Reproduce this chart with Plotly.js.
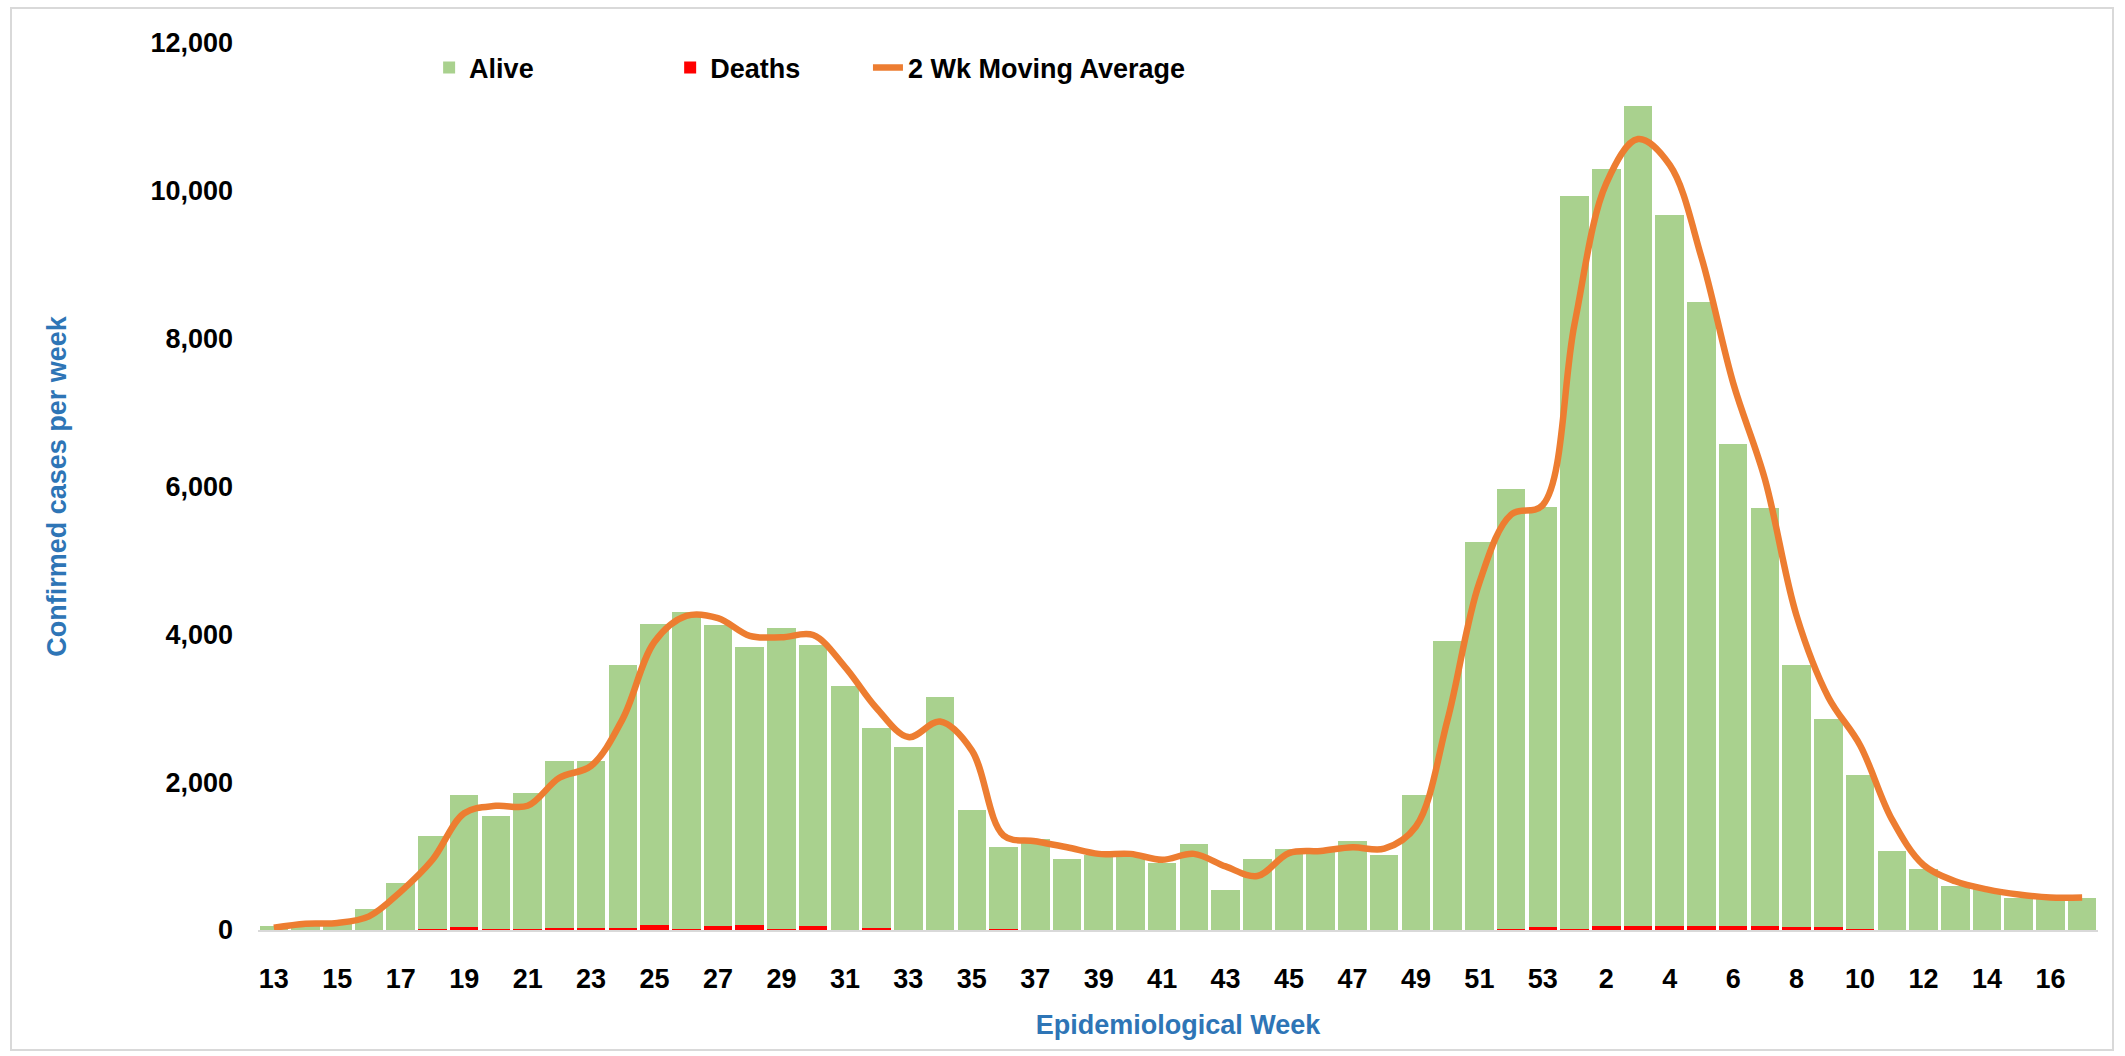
<!DOCTYPE html>
<html>
<head>
<meta charset="utf-8">
<script src="https://cdn.plot.ly/plotly-3.0.1.min.js"></script>
<style>
  html, body { margin: 0; padding: 0; background: #fff; }
  #frame { position: absolute; left: 10px; top: 7px; width: 2100px; height: 1040px; border: 2px solid #D9D9D9; pointer-events: none; z-index: 5; }
  #chart { position: absolute; left: 0; top: 0; width: 2125px; height: 1056px; }
</style>
</head>
<body>
<div id="chart"></div>
<div id="frame"></div>
<script>
// Epidemiological week labels (2020 weeks 13-53, then 2021 weeks 1-17)
const weekLabels = [
  "13","14","15","16","17","18","19","20","21","22","23","24","25","26","27","28","29","30",
  "31","32","33","34","35","36","37","38","39","40","41","42","43","44","45","46","47","48",
  "49","50","51","52","53",
  "1","2","3","4","5","6","7","8","9","10","11","12","13","14","15","16","17"
];

// Confirmed cases per week, alive
const alive = [
  60, 80, 100, 290, 630, 1250, 1785, 1520, 1830, 2260, 2260, 3560, 4070, 4280, 4065, 3765, 4075, 3795,
  3295, 2700, 2465, 3145, 1615, 1105, 1225, 955, 1005, 1025, 905, 1155, 535, 955, 1095, 1065, 1205, 1005,
  1815, 3905, 5245, 5945, 5685,
  9915, 10235, 11095, 9615, 8445, 6525, 5655, 3545, 2825, 2085, 1065, 825, 585, 555, 425, 435, 425
];

// Deaths per week
const deaths = [
  0, 0, 0, 0, 0, 20, 35, 20, 20, 30, 30, 30, 70, 20, 55, 65, 15, 55,
  5, 30, 5, 5, 5, 15, 5, 5, 5, 5, 5, 5, 5, 5, 5, 5, 5, 5,
  5, 5, 5, 15, 35,
  15, 55, 55, 55, 55, 55, 55, 35, 35, 15, 5, 5, 5, 5, 5, 5, 5
];

// 2 week moving average
const movingAvg = [
  30, 85, 95, 185, 520, 950, 1580, 1680, 1680, 2060, 2220, 2860, 3900, 4250, 4220, 3980, 3960, 3990,
  3560, 3000, 2610, 2820, 2430, 1280, 1200, 1120, 1030, 1030, 950, 1030, 860, 730, 1040, 1070, 1120, 1100,
  1400, 2850, 4700, 5620, 5750,
  8200, 10100, 10700, 10350, 9100, 7400, 6100, 4250, 3150, 2500, 1500, 880, 660, 550, 480, 440, 440
];

const idx = weekLabels.map((_, i) => i);
const tickIdx = idx.filter(i => i % 2 === 0);
const tickText = tickIdx.map(i => weekLabels[i]);

const FONT = "Liberation Sans, Arial, sans-serif";
const BLUE = "#2E75B6";

const traces = [
  {
    type: "bar", name: "Deaths", x: idx, y: deaths,
    marker: { color: "#FF0000", line: { width: 0 } },
    legend: "legend2", legendrank: 2,
    customdata: weekLabels, hovertemplate: "Week %{customdata}: %{y}<extra>Deaths</extra>"
  },
  {
    type: "bar", name: "Alive", x: idx, y: alive,
    marker: { color: "#A9D18E", line: { width: 0 } },
    legend: "legend", legendrank: 1,
    customdata: weekLabels, hovertemplate: "Week %{customdata}: %{y}<extra>Alive</extra>"
  },
  {
    type: "scatter", mode: "lines", name: "2 Wk Moving Average", x: idx, y: movingAvg,
    line: { color: "#ED7D31", width: 6.5, shape: "spline", smoothing: 1 },
    legend: "legend3", legendrank: 3,
    customdata: weekLabels, hovertemplate: "Week %{customdata}: %{y}<extra>2 Wk MA</extra>"
  }
];

const legendBase = {
  orientation: "h", yanchor: "middle", xanchor: "left", y: 0.972,
  bgcolor: "rgba(0,0,0,0)", font: { family: FONT, size: 27, color: "#000", weight: 700 },
  itemwidth: 30
};

const layout = {
  width: 2125, height: 1056,
  margin: { l: 258, r: 27, t: 43, b: 126 },
  paper_bgcolor: "#fff", plot_bgcolor: "#fff",
  barmode: "stack", bargap: 0.1,
  font: { family: FONT, size: 27, color: "#000", weight: 700 },
  showlegend: true,
  legend: Object.assign({}, legendBase, { x: 0.093 }),
  legend2: Object.assign({}, legendBase, { x: 0.224 }),
  legend3: Object.assign({}, legendBase, { x: 0.3315 }),
  xaxis: {
    range: [-0.5, weekLabels.length - 0.5],
    tickmode: "array", tickvals: tickIdx, ticktext: tickText,
    ticks: "", ticklabelstandoff: 24,
    tickfont: { family: FONT, size: 27, color: "#000", weight: 700 },
    showgrid: false, zeroline: false,
    showline: true, linecolor: "#D9D9D9", linewidth: 2,
    title: { text: "Epidemiological Week", standoff: 22, font: { family: FONT, size: 27, color: BLUE, weight: 700 } }
  },
  yaxis: {
    range: [0, 12000], tickvals: [0, 2000, 4000, 6000, 8000, 10000, 12000],
    tickformat: ",d", ticks: "", ticklabelstandoff: 24,
    tickfont: { family: FONT, size: 27, color: "#000", weight: 700 },
    showgrid: false, zeroline: false, showline: false,
    title: { text: "Confirmed cases per week", standoff: 75, font: { family: FONT, size: 27, color: BLUE, weight: 700 } }
  }
};

Plotly.newPlot("chart", traces, layout, { displayModeBar: false, staticPlot: true });
</script>
</body>
</html>
